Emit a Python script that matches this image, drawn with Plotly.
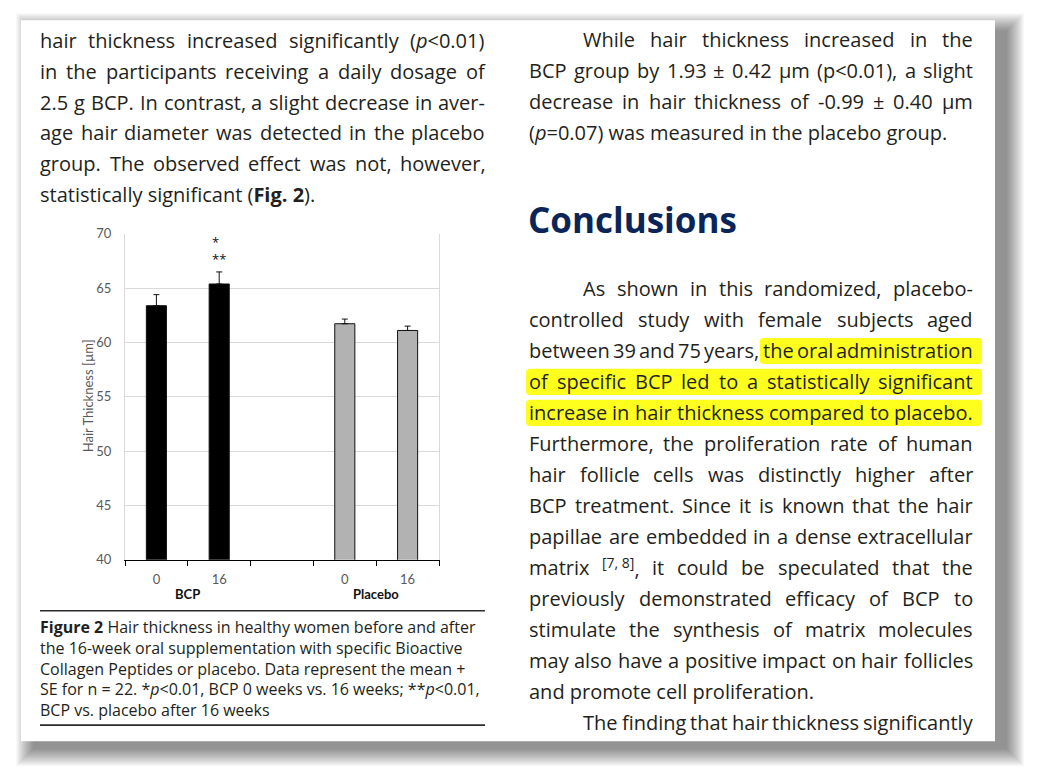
import re
import plotly.graph_objects as go

W, H = 1037, 783          # browser window
OFF = 8                   # default page margin round the figure
FW, FH = W - 2 * OFF, H - 2 * OFF
# the photographed page comes out slightly squeezed in height; undo it
SQ_A, SQ_B = 8.94, 0.9766

# Fig. 2 - hair thickness (um), mean + SE
groups = ["BCP", "BCP", "Placebo", "Placebo"]
weeks = ["0", "16", "0", "16"]
mean_um = [63.38, 65.38, 61.72, 61.10]
se_um = [1.02, 1.11, 0.43, 0.40]
marks = ["", "*<br>**", "", ""]

# page text, line by line: (text, mode)  j = justified, i = indented + justified, l = left
left_text = [
    ("hair thickness increased significantly (<i>p</i>&lt;0.01)", "j"),
    ("in the participants receiving a daily dosage of", "j"),
    ("2.5 g BCP. In contrast, a slight decrease in aver-", "j"),
    ("age hair diameter was detected in the placebo", "j"),
    ("group. The observed effect was not, however,", "j"),
    ("statistically significant (<b>Fig. 2</b>).", "l"),
]
right_text1 = [
    ("While hair thickness increased in the", "i"),
    ("BCP group by 1.93 ± 0.42 µm (p&lt;0.01), a slight", "j"),
    ("decrease in hair thickness of -0.99 ± 0.40 µm", "j"),
    ("(<i>p</i>=0.07) was measured in the placebo group.", "l"),
]
heading = "Conclusions"
right_text2 = [
    ("As shown in this randomized, placebo-", "i"),
    ("controlled study with female subjects aged", "j"),
    ("between 39 and 75 years, the oral administration", "j"),
    ("of specific BCP led to a statistically significant", "j"),
    ("increase in hair thickness compared to placebo.", "j"),
    ("Furthermore, the proliferation rate of human", "j"),
    ("hair follicle cells was distinctly higher after", "j"),
    ("BCP treatment. Since it is known that the hair", "j"),
    ("papillae are embedded in a dense extracellular", "j"),
    ("matrix <sup>[7,~8]</sup>, it could be speculated that the", "j"),
    ("previously demonstrated efficacy of BCP to", "j"),
    ("stimulate the synthesis of matrix molecules", "j"),
    ("may also have a positive impact on hair follicles", "j"),
    ("and promote cell proliferation.", "l"),
    ("The finding that hair thickness significantly", "i"),
]
caption = [
    "<b>Figure 2</b> Hair thickness in healthy women before and after",
    "the 16-week oral supplementation with specific Bioactive",
    "Collagen Peptides or placebo. Data represent the mean +",
    "SE for n = 22. *<i>p</i>&lt;0.01, BCP 0 weeks vs. 16 weeks; **<i>p</i>&lt;0.01,",
    "BCP vs. placebo after 16 weeks",
]

INK = "#231f20"

# rough Open Sans advance widths (units of 1/2048 em) for justifying lines
CW = dict(zip("abcdefghijklmnopqrstuvwxyz",
              [1139, 1255, 975, 1255, 1149, 694, 1122, 1257, 518, 518, 1075, 518, 1905,
               1257, 1237, 1255, 1255, 836, 977, 723, 1257, 1026, 1593, 1073, 1028, 977]))
CW.update(zip("ABCDEFGHIJKLMNOPQRSTUVWXYZ",
              [1296, 1327, 1292, 1493, 1139, 1057, 1491, 1511, 571, 547, 1257, 1063, 1849,
               1544, 1595, 1233, 1595, 1266, 1124, 1149, 1511, 1219, 1896, 1182, 1141, 1188]))
CW.update({c: 1171 for c in "0123456789<=+±"})
CW.update({" ": 532, ".": 545, ",": 502, "-": 659, "(": 606, ")": 606, "[": 659, "]": 659,
           "*": 1130, ";": 545, ":": 545, "µ": 1264})


def px(x):
    return (x - OFF) / FW


def py(y):
    return 1 - ((y - SQ_A) / SQ_B - OFF) / FH


def raw_w(s):
    s = re.sub(r"<[^>]+>", "", s).replace("&lt;", "<").replace("~", " ")
    return sum(CW.get(c, 1150) for c in s)


def word_w(word, size):
    sup = re.findall(r"<sup>(.*?)</sup>", word)
    rest = re.sub(r"<sup>.*?</sup>", "", word)
    w = raw_w(rest) * (1.07 if "<b>" in rest else 1.0) + sum(raw_w(s) for s in sup) * 0.7
    return w / 2048 * size


annotations = []
shapes = []


def note(text, x, y, size, **kw):
    d = dict(text=text, x=px(x), y=py(y), xref="paper", yref="paper", showarrow=False,
             xanchor="left", yanchor="middle", borderpad=0, borderwidth=0,
             font=dict(family="Open Sans", size=size, color=INK))
    d.update(kw)
    annotations.append(d)


def put_lines(lines, x0, x1, y0, step, size, indent=54):
    starts = []
    for k, (text, mode) in enumerate(lines):
        y = y0 + k * step
        xl = x0 + (indent if mode == "i" else 0)
        words = text.split(" ")
        if mode == "l" or len(words) < 2:
            note(text.replace("~", " "), xl, y, size)
            starts.append([xl])
            continue
        widths = [word_w(w, size) for w in words]
        gap = (x1 - xl - sum(widths)) / (len(words) - 1)
        xs = []
        x = xl
        for w, ww in zip(words, widths):
            note(w.replace("~", " "), x, y, size)
            xs.append(x)
            x += ww + gap
        starts.append(xs)
    return starts


def round_box(xa, xb, ya, yb, r, color):
    # rounded rectangle in page pixels -> paper path
    X = lambda v: px(v)
    Y = lambda v: py(v)
    d = (f"M {X(xa + r)},{Y(ya)} L {X(xb - r)},{Y(ya)} Q {X(xb)},{Y(ya)} {X(xb)},{Y(ya + r)} "
         f"L {X(xb)},{Y(yb - r)} Q {X(xb)},{Y(yb)} {X(xb - r)},{Y(yb)} "
         f"L {X(xa + r)},{Y(yb)} Q {X(xa)},{Y(yb)} {X(xa)},{Y(yb - r)} "
         f"L {X(xa)},{Y(ya + r)} Q {X(xa)},{Y(ya)} {X(xa + r)},{Y(ya)} Z")
    shapes.append(dict(type="path", path=d, xref="paper", yref="paper", layer="below",
                       fillcolor=color, line=dict(width=0)))


# page shadow (soft, down and to the right) and page
for k in range(18):
    shapes.append(dict(type="rect", xref="paper", yref="paper", layer="below",
                       x0=px(21 + 12 - k), x1=px(995 + 12 + k), y0=py(740 + 8 + k), y1=py(21 + 10 - k),
                       fillcolor="rgba(0,0,0,0.026)", line=dict(width=0)))
shapes.append(dict(type="rect", xref="paper", yref="paper", layer="below",
                   x0=px(21), x1=px(995), y0=py(740), y1=py(21),
                   fillcolor="white", line=dict(width=0)))

# right column, second paragraph, with its highlighted sentence drawn under the words
step = 30.9
hl_rows = [(2, 5), (3, 0), (4, 0)]   # (line in right_text2, first highlighted word)
starts2 = put_lines(right_text2, 529, 973, 289, step, 20)
for row, w0 in hl_rows:
    yc = 289 + row * step
    round_box(starts2[row][w0] - 3, 982, yc - 13, yc + 13, 4, "#ffff1e")

put_lines(left_text, 40, 485, 41, 30.8, 20)
put_lines(right_text1, 529, 973, 40, 31, 20)
note("<b>" + heading + "</b>", 528, 220, 35, font=dict(family="Open Sans", size=35, color="#0b2559"))

# caption as one block of lines
note("<br>".join(caption), 40, 667.5, 16, align="left")

# rules round the caption
for yr in (610, 724):
    shapes.append(dict(type="line", xref="paper", yref="paper", x0=px(40), x1=px(485),
                       y0=py(yr), y1=py(yr), line=dict(color="#2b2b2b", width=1.6)))

# chart
xpos = [i + (g != groups[0]) for i, g in enumerate(groups)]
bar_fill = {"BCP": "#000000", "Placebo": "#b2b2b2"}

fig = go.Figure()
fig.add_trace(go.Bar(
    x=xpos, y=mean_um, width=0.32,
    marker=dict(color=[bar_fill[g] for g in groups], line=dict(color="#111111", width=1)),
    error_y=dict(type="data", array=se_um, arrayminus=[0] * len(se_um), symmetric=False,
                 color="#111111", thickness=1, width=3),
    hoverinfo="skip", showlegend=False,
))

for x, m, s, t in zip(xpos, mean_um, se_um, marks):
    if t:
        annotations.append(dict(text=t, x=x, y=m + s + 0.2, xref="x", yref="y", showarrow=False,
                                xanchor="center", yanchor="bottom", align="left",
                                font=dict(family="Open Sans", size=13, color="#111111")))

for g in dict.fromkeys(groups):
    gx = [x for x, gg in zip(xpos, groups) if gg == g]
    annotations.append(dict(text="<b>" + g + "</b>", x=sum(gx) / len(gx), y=py(593), xref="x", yref="paper",
                            showarrow=False, xanchor="center", yanchor="middle",
                            font=dict(family="Lato", size=13, color="#111111")))

annotations.append(dict(text="Hair Thickness [µm]", x=px(88), y=py(396), xref="paper", yref="paper",
                        showarrow=False, textangle=-90, xanchor="center", yanchor="middle",
                        font=dict(family="Lato", size=13, color="#595959")))

fig.update_layout(
    width=FW, height=FH,
    margin=dict(l=0, r=0, t=0, b=0),
    paper_bgcolor="white",
    plot_bgcolor="rgba(0,0,0,0)",
    font=dict(family="Open Sans", color=INK),
    xaxis=dict(domain=[px(125), px(439)], range=[-0.5, 4.5],
               tickvals=xpos, ticktext=weeks, ticks="", ticklabelstandoff=8,
               tickfont=dict(family="Lato", size=13, color="#595959"),
               showgrid=False, zeroline=False, showline=True, linecolor="black", linewidth=1,
               minor=dict(tickvals=[k - 0.5 for k in range(6)], ticks="outside",
                          ticklen=5, tickcolor="black", tickwidth=1, showgrid=False)),
    yaxis=dict(domain=[py(559), py(234)], range=[40, 70], tick0=40, dtick=5,
               ticks="", ticklabelstandoff=10,
               tickfont=dict(family="Lato", size=13, color="#595959"),
               showgrid=True, gridcolor="#d9d9d9", gridwidth=1, zeroline=False,
               showline=True, linecolor="#d9d9d9", mirror=True),
    shapes=shapes,
    annotations=annotations,
)

fig.write_html("out.html", config={"displayModeBar": False})
